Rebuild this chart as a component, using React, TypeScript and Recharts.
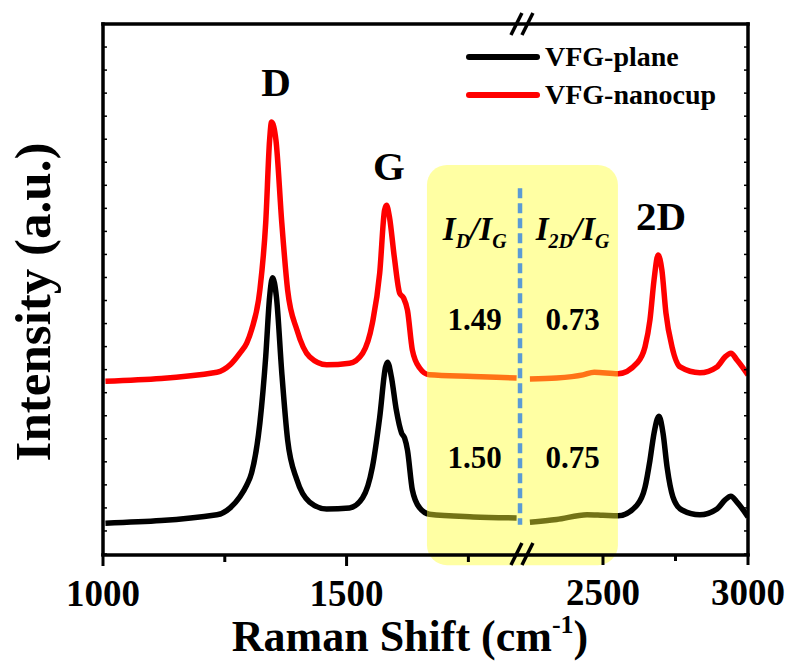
import React from 'react';
import { LineChart, Line, XAxis, YAxis, ReferenceArea, ReferenceLine, ReferenceDot, Legend } from 'recharts';

const FONT = "'Liberation Serif', 'Times New Roman', serif";

// Raman shift (cm-1) and intensity (a.u.), left of the axis break
const planeLowShift = [1005, 1234, 1261, 1281, 1295, 1305, 1322, 1334, 1342, 1348, 1356, 1367, 1379, 1398, 1424, 1459, 1506, 1533, 1553, 1568, 1580, 1584, 1592, 1602, 1613, 1619, 1625, 1635, 1650, 1670, 1760, 1849];
const planeLowIntensity = [5.8, 7.4, 8.7, 10.8, 13.0, 15.3, 24.7, 37.2, 48.5, 52.1, 48.5, 34.2, 21.5, 14.0, 9.8, 8.5, 8.7, 10.6, 16.4, 25.8, 35.3, 36.2, 33.4, 27.2, 22.8, 21.9, 19.6, 12.1, 8.7, 7.5, 7.0, 6.8];
const cupLowShift = [1005, 1234, 1261, 1281, 1295, 1305, 1322, 1334, 1342, 1346, 1355, 1367, 1379, 1398, 1424, 1459, 1506, 1533, 1553, 1568, 1578, 1582, 1588, 1598, 1609, 1617, 1625, 1635, 1650, 1670, 1760, 1849];
const cupLowIntensity = [32.6, 34.3, 35.7, 37.9, 39.8, 42.3, 49.8, 62.5, 78.1, 81.5, 78.1, 62.5, 49.8, 42.3, 37.2, 35.7, 36.0, 37.9, 43.6, 53.0, 64.9, 65.8, 63.6, 56.0, 49.2, 48.3, 46.0, 38.5, 35.1, 33.8, 33.5, 33.2];

// right of the axis break
const planeHighShift = [2248, 2340, 2445, 2500, 2552, 2617, 2645, 2662, 2676, 2693, 2707, 2721, 2741, 2772, 2834, 2893, 2921, 2941, 2962, 3000];
const planeHighIntensity = [6.0, 6.5, 7.4, 7.3, 7.2, 9.2, 12.6, 17.7, 22.8, 26.0, 22.8, 16.4, 10.8, 8.3, 7.4, 8.5, 10.2, 10.9, 9.8, 7.0];
const cupHighShift = [2248, 2340, 2431, 2470, 2552, 2617, 2645, 2662, 2676, 2690, 2703, 2717, 2738, 2766, 2834, 2893, 2921, 2941, 2962, 3000];
const cupHighIntensity = [33.0, 33.2, 33.8, 34.3, 34.0, 36.0, 39.1, 44.2, 51.7, 56.4, 53.6, 45.5, 39.1, 35.3, 34.2, 35.3, 37.2, 37.9, 36.6, 33.8];

const seriesNames = ['VFG-plane', 'VFG-nanocup'];
const seriesColors = ['#000000', '#ff0000'];

const ratioHeaders = ['D', '2D'];
const cupRatios = ['1.49', '0.73'];
const planeRatios = ['1.50', '0.75'];

const lowTicks = [1000, 1250, 1500, 1750];
const highTicks = [2500, 2750, 3000];
const labelledTicks = [1000, 1500, 2500, 3000];
const intensityTicks = Array.from({ length: 24 }, (_, i) => (i * 100) / 23);

const LOW_DOMAIN = [1000, 2324];
const HIGH_DOMAIN = [776, 3000];

const toPoints = (xs: number[], ys: number[]) => xs.map((x, i) => ({ x, y: ys[i] }));
const planeLow = toPoints(planeLowShift, planeLowIntensity);
const planeHigh = toPoints(planeHighShift, planeHighIntensity);
const cupLow = toPoints(cupLowShift, cupLowIntensity);
const cupHigh = toPoints(cupHighShift, cupHighIntensity);

const AXIS_LINE = { stroke: '#000', strokeWidth: 3.5, strokeLinecap: 'square' as const };

const BottomTick = (props: any) => {
  const { x, y, payload } = props;
  const major = labelledTicks.includes(payload.value);
  return (
    <g>
      <rect x={x - 1.5} y={y} width={3} height={major ? 11 : 7} fill="#000" />
      {major && (
        <text x={x} y={y + 51} textAnchor="middle" fontFamily={FONT} fontWeight="bold" fontSize={37} fill="#000">
          {payload.value}
        </text>
      )}
    </g>
  );
};

const TopTick = ({ x, y }: any) => <rect x={x - 0.75} y={y} width={1.5} height={4} fill="#000" />;
const LeftTick = ({ x, y }: any) => <rect x={x} y={y - 0.75} width={4} height={1.5} fill="#000" />;
const RightTick = ({ x, y }: any) => <rect x={x - 4} y={y - 0.75} width={4} height={1.5} fill="#000" />;

const BreakMark = ({ cx, cy }: any) => (
  <g stroke="#000" strokeWidth={3.5}>
    <line x1={cx - 11} y1={cy + 11} x2={cx} y2={cy - 11} />
    <line x1={cx} y1={cy + 11} x2={cx + 11} y2={cy - 11} />
  </g>
);

const boldText = (text: React.ReactNode, size: number) => (props: any) => {
  const vb = props.viewBox;
  return (
    <text x={vb.x + vb.width / 2} y={vb.y + vb.height / 2} textAnchor="middle" fontFamily={FONT} fontWeight="bold" fontSize={size} fill="#000">
      {text}
    </text>
  );
};

const ratioHeader = (sub: string) => (
  <tspan fontStyle="italic">
    I<tspan fontSize={20} dy={8}>{sub}</tspan>
    <tspan dy={-8}>/I</tspan>
    <tspan fontSize={20} dy={8}>G</tspan>
  </tspan>
);

const XTitle = (props: any) => {
  const vb = props.viewBox;
  return (
    <text x={vb.x + 307} y={vb.y + 96} textAnchor="middle" fontFamily={FONT} fontWeight="bold" fontSize={44} fill="#000">
      Raman Shift (cm<tspan fontSize={26} dy={-18}>-1</tspan>
      <tspan dy={18}>)</tspan>
    </text>
  );
};

const YTitle = (props: any) => {
  const vb = props.viewBox;
  const cy = vb.y + 278;
  return (
    <text x={50} y={cy} transform={`rotate(-90, 50, ${cy})`} textAnchor="middle" fontFamily={FONT} fontWeight="bold" fontSize={51} fill="#000">
      Intensity (a.u.)
    </text>
  );
};

const LegendContent = () => (
  <div style={{ fontFamily: FONT, fontWeight: 'bold', fontSize: 28, color: '#000' }}>
    {seriesNames.map((name, i) => (
      <div key={name} style={{ display: 'flex', alignItems: 'center', height: 38 }}>
        <svg width={74} height={10}>
          <line x1={3} x2={71} y1={5} y2={5} stroke={seriesColors[i]} strokeWidth={6} strokeLinecap="round" />
        </svg>
        <span style={{ marginLeft: 5, lineHeight: '38px' }}>{name}</span>
      </div>
    ))}
  </div>
);

const App: React.FC = () => {
  return (
    <div style={{ position: 'absolute', left: 0, top: 0, width: 794, height: 670, background: '#fff' }}>
      <LineChart width={794} height={670} margin={{ top: 23, right: 45, bottom: 114, left: 102 }}>
        <XAxis xAxisId="lo" type="number" dataKey="x" domain={LOW_DOMAIN} allowDataOverflow ticks={lowTicks} interval={0}
          height={1} tickSize={0} tickMargin={0} tickLine={false} tick={<BottomTick />}
          axisLine={AXIS_LINE} label={XTitle} />
        <XAxis xAxisId="hi" type="number" dataKey="x" domain={HIGH_DOMAIN} allowDataOverflow ticks={highTicks} interval={0}
          height={1} tickSize={0} tickMargin={0} tickLine={false} tick={<BottomTick />} axisLine={false} />
        <XAxis xAxisId="top" type="number" orientation="top" domain={LOW_DOMAIN} allowDataOverflow ticks={lowTicks} interval={0}
          height={1} tickSize={0} tickMargin={0} tickLine={false} tick={<TopTick />} axisLine={AXIS_LINE} />
        <YAxis yAxisId="int" type="number" domain={[0, 100]} allowDataOverflow ticks={intensityTicks} interval={0}
          width={1} tickSize={0} tickMargin={0} tickLine={false} tick={<LeftTick />} axisLine={AXIS_LINE} label={YTitle} />
        <YAxis yAxisId="frame" orientation="right" type="number" domain={[0, 100]} allowDataOverflow ticks={intensityTicks} interval={0}
          width={1} tickSize={0} tickMargin={0} tickLine={false} tick={<RightTick />} axisLine={AXIS_LINE} />

        <Line xAxisId="lo" yAxisId="int" data={planeLow} dataKey="y" name={seriesNames[0]} type="monotone"
          stroke={seriesColors[0]} strokeWidth={5.5} dot={false} isAnimationActive={false} />
        <Line xAxisId="lo" yAxisId="int" data={cupLow} dataKey="y" name={seriesNames[1]} type="monotone"
          stroke={seriesColors[1]} strokeWidth={5.5} dot={false} isAnimationActive={false} />
        <Line xAxisId="hi" yAxisId="int" data={planeHigh} dataKey="y" name={seriesNames[0] + ' '} type="monotone" legendType="none"
          stroke={seriesColors[0]} strokeWidth={5.5} dot={false} isAnimationActive={false} />
        <Line xAxisId="hi" yAxisId="int" data={cupHigh} dataKey="y" name={seriesNames[1] + ' '} type="monotone" legendType="none"
          stroke={seriesColors[1]} strokeWidth={5.5} dot={false} isAnimationActive={false} />

        <ReferenceArea xAxisId="lo" yAxisId="int" x1={1665} x2={2057} y1={-2.1} y2={73.4} ifOverflow="visible"
          fill="#ffff33" fillOpacity={0.45} stroke="none" radius={20} zIndex={450} />
        <ReferenceLine xAxisId="lo" yAxisId="int" segment={[{ x: 1856, y: 69 }, { x: 1856, y: 5.5 }]} ifOverflow="visible"
          stroke="#5b9bd5" strokeWidth={4.5} strokeDasharray="10 5" zIndex={460} />

        <ReferenceDot xAxisId="lo" yAxisId="int" x={1860} y={0} r={1} ifOverflow="visible" shape={BreakMark} />
        <ReferenceDot xAxisId="lo" yAxisId="int" x={1860} y={100} r={1} ifOverflow="visible" shape={BreakMark} />

        <ReferenceDot xAxisId="lo" yAxisId="int" x={1355} y={86.4} r={1} fill="none" stroke="none" ifOverflow="visible" label={boldText('D', 41)} />
        <ReferenceDot xAxisId="lo" yAxisId="int" x={1587} y={70.6} r={1} fill="none" stroke="none" ifOverflow="visible" label={boldText('G', 41)} />
        <ReferenceDot xAxisId="hi" yAxisId="int" x={2700} y={61.1} r={1} fill="none" stroke="none" ifOverflow="visible" label={boldText('2D', 41)} />

        <ReferenceDot xAxisId="lo" yAxisId="int" x={1763} y={59.2} r={1} fill="none" stroke="none" ifOverflow="visible" label={boldText(ratioHeader(ratioHeaders[0]), 33)} />
        <ReferenceDot xAxisId="lo" yAxisId="int" x={1964} y={59.2} r={1} fill="none" stroke="none" ifOverflow="visible" label={boldText(ratioHeader(ratioHeaders[1]), 33)} />
        <ReferenceDot xAxisId="lo" yAxisId="int" x={1763} y={42.3} r={1} fill="none" stroke="none" ifOverflow="visible" label={boldText(cupRatios[0], 31)} />
        <ReferenceDot xAxisId="lo" yAxisId="int" x={1964} y={42.3} r={1} fill="none" stroke="none" ifOverflow="visible" label={boldText(cupRatios[1], 31)} />
        <ReferenceDot xAxisId="lo" yAxisId="int" x={1763} y={16.2} r={1} fill="none" stroke="none" ifOverflow="visible" label={boldText(planeRatios[0], 31)} />
        <ReferenceDot xAxisId="lo" yAxisId="int" x={1964} y={16.2} r={1} fill="none" stroke="none" ifOverflow="visible" label={boldText(planeRatios[1], 31)} />

        <Legend layout="vertical" align="center" verticalAlign="middle" content={<LegendContent />}
          wrapperStyle={{ position: 'absolute', left: 466, top: 38, width: 'auto' }} />
      </LineChart>
    </div>
  );
};

export default App;
